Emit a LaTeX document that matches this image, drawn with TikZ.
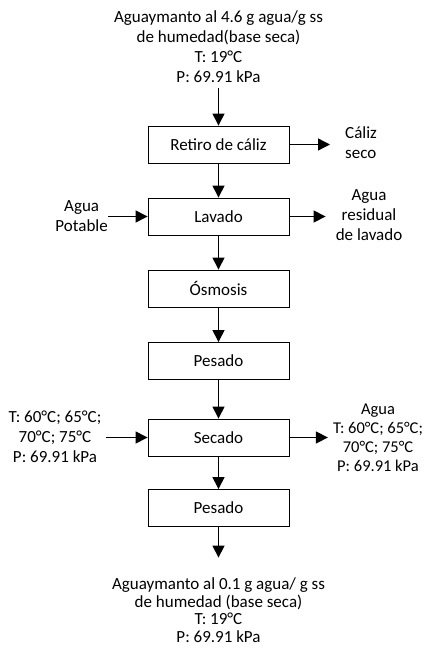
\documentclass[tikz,border=0pt]{standalone}
\usepackage{fontspec}
\setmainfont{Carlito}
\usetikzlibrary{arrows.meta}
\begin{document}
\begin{tikzpicture}[x=1pt,y=-1pt,
  proc/.style={draw, line width=0.9pt, minimum width=141pt, minimum height=37pt, inner sep=0pt, font=\fontsize{17}{20}\selectfont},
  lbl/.style={inner sep=0pt, align=center, font=\fontsize{17}{20}\selectfont},
  arr/.style={line width=1.4pt, -{Triangle[width=12pt,length=12pt]}}]
\useasboundingbox (0,0) rectangle (425,650);
\fill[white] (0,0) rectangle (425,650);
\node[lbl] (top) at (218.5,47) {Aguaymanto al 4.6 g agua/g ss\\de humedad(base seca)\\T: 19°C\\P: 69.91 kPa};
\node[proc] (retiro) at (218.5,144.5) {Retiro de cáliz};
\node[proc] (lavado) at (218.5,216.5) {Lavado};
\node[proc] (osmosis) at (218.5,288.5) {Ósmosis};
\node[proc] (pesado1) at (218.5,361) {Pesado};
\node[proc] (secado) at (218.5,437.5) {Secado};
\node[proc] (pesado2) at (218.5,508) {Pesado};
\node[lbl, font=\fontsize{17}{17.5}\selectfont] (bottom) at (218.5,610) {Aguaymanto al 0.1 g agua/ g ss\\de humedad (base seca)\\T: 19°C\\P: 69.91 kPa};
\node[lbl, align=left, anchor=west] (caliz) at (345,143) {Cáliz\\seco};
\node[lbl] (residual) at (369,215.5) {Agua\\residual\\de lavado};
\node[lbl, anchor=east] (potable) at (108,216) {Agua\\Potable};
\node[lbl] (tin) at (55,437) {T: 60°C; 65°C;\\70°C; 75°C\\P: 69.91 kPa};
\node[lbl, font=\fontsize{16.5}{19}\selectfont] (tout) at (378,438) {Agua\\T: 60°C; 65°C;\\70°C; 75°C\\P: 69.91 kPa};
\draw[arr, shorten <=5pt] (top) -- (retiro);
\draw[arr] (retiro) -- (lavado);
\draw[arr] (lavado) -- (osmosis);
\draw[arr] (osmosis) -- (pesado1);
\draw[arr] (pesado1) -- (secado);
\draw[arr] (secado) -- (pesado2);
\draw[arr, shorten >=20pt] (pesado2) -- (bottom);
\draw[arr, shorten >=15pt] (retiro.east) -- (retiro.east -| caliz.west);
\draw[arr, shorten >=10pt] (lavado.east) -- (lavado.east -| residual.west);
\draw[arr] (potable.east |- lavado.west) -- (lavado.west);
\draw[arr, shorten <=4pt] (tin.east |- secado.west) -- (secado.west);
\draw[arr, shorten >=5pt] (secado.east) -- (secado.east -| tout.west);
\end{tikzpicture}
\end{document}
